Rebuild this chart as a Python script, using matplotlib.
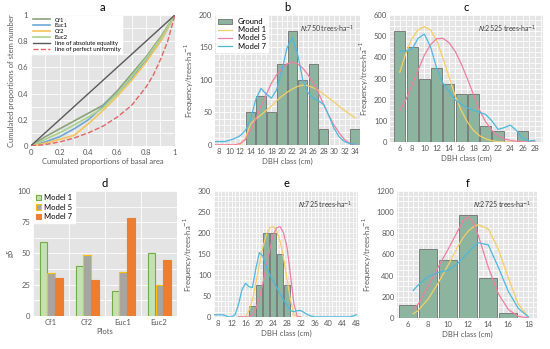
import matplotlib
matplotlib.use('Agg')
import matplotlib.pyplot as plt
from matplotlib.ticker import MultipleLocator
import numpy as np

plt.rcParams['font.family'] = ['Lato', 'DejaVu Sans']

# ---------- data ----------
# a: Lorenz curves
lor_x = [0, 0.1, 0.2, 0.3, 0.4, 0.5, 0.6, 0.7, 0.8, 0.9, 1.0]
cf1 = [0, 0.07, 0.13, 0.19, 0.25, 0.31, 0.42, 0.55, 0.68, 0.83, 1.0]
euc1 = [0, 0.03, 0.07, 0.13, 0.20, 0.30, 0.40, 0.52, 0.65, 0.80, 1.0]
cf2 = [0, 0.02, 0.05, 0.08, 0.17, 0.27, 0.38, 0.50, 0.64, 0.80, 1.0]
euc2 = [0, 0.05, 0.10, 0.16, 0.22, 0.29, 0.40, 0.53, 0.67, 0.82, 1.0]
unif_x = [0, 0.1, 0.2, 0.3, 0.4, 0.5, 0.6, 0.7, 0.8, 0.85, 0.9, 0.95, 1.0]
unif_y = [0, 0.01, 0.03, 0.06, 0.10, 0.15, 0.22, 0.31, 0.45, 0.54, 0.66, 0.80, 1.0]

# b
b_cls = [14, 16, 18, 20, 22, 24, 26, 28, 30, 32, 34]
b_frq = [50, 75, 50, 125, 175, 100, 125, 25, 0, 0, 25]
b_x = list(range(7, 35))
b_m1 = [0, 0, 0, 0, 0, 0, 10, 32, 40, 46, 53, 60, 68, 75, 81, 86, 90, 92, 91, 88, 84, 78, 72, 66, 59, 53, 47, 42]
b_m5 = [0, 0, 0, 0, 0, 2, 8, 22, 40, 60, 78, 95, 108, 118, 125, 127, 125, 118, 108, 95, 80, 62, 45, 30, 18, 8, 2, 0]
b_m7 = [5, 5, 5, 7, 10, 14, 22, 40, 70, 87, 78, 72, 85, 115, 150, 165, 140, 100, 80, 72, 68, 62, 45, 25, 12, 5, 2, 1]

# c
c_cls = [6, 8, 10, 12, 14, 16, 18, 20, 22, 24, 26]
c_frq = [525, 450, 300, 350, 275, 225, 225, 75, 50, 0, 50]
c_x = list(range(6, 29))
c_m1 = [330, 420, 490, 530, 545, 530, 480, 400, 310, 220, 150, 95, 55, 30, 15, 6, 2, 0, 0, 0, 0, 0, 0]
c_m5 = [150, 200, 270, 340, 410, 460, 488, 490, 470, 430, 370, 300, 225, 150, 95, 55, 30, 15, 8, 3, 1, 0, 0]
c_m7 = [430, 430, 440, 490, 510, 450, 350, 280, 240, 200, 178, 162, 150, 140, 130, 100, 60, 68, 80, 55, 18, 5, 8]

# d
plots = ['Cf1', 'Cf2', 'Euc1', 'Euc2']
d_m1 = [59, 40, 20, 50]
d_m5 = [34, 49, 35, 25]
d_m7 = [30, 29, 78, 45]

# e
e_cls = [18, 20, 22, 24, 26, 28]
e_frq = [25, 75, 200, 200, 150, 75]
e_x = list(range(14, 33))
e_m1 = [0, 0, 0, 15, 40, 80, 125, 165, 195, 212, 215, 205, 180, 140, 90, 40, 5, 0, 0]
e_m5 = [0, 0, 0, 0, 5, 20, 45, 80, 120, 160, 195, 212, 215, 200, 165, 100, 30, 0, 0]
e_x7 = list(range(7, 49))
e_m7 = [5, 5, 5, 4, 0, 0, 5, 30, 65, 80, 72, 70, 115, 153, 145, 120, 100, 85, 70, 55, 40, 28, 15, 12, 15, 15, 10, 5, 2,
        0, 0, 0, 0, 0, 0, 0, 0, 0, 0, 0, 2, 5]

# f
f_cls = [6, 8, 10, 12, 14, 16]
f_frq = [125, 650, 550, 975, 375, 50]
f_x = [6.5, 7, 8, 9, 10, 11, 11.5, 12, 12.5, 13, 14, 15, 16, 17, 18]
f_m1 = [40, 70, 180, 330, 500, 680, 760, 820, 860, 880, 840, 650, 380, 130, 10]
f_m5 = [80, 130, 300, 480, 650, 830, 920, 955, 900, 780, 480, 230, 80, 15, 0]
f_m7 = [260, 310, 390, 430, 450, 520, 570, 620, 670, 710, 690, 480, 250, 90, 10]

# ---------- style ----------
bg = '#e4e4e4'
tc = '#595959'
bar_c = '#8db49e'
c_m1c = '#f5cf63'
c_m5c = '#f07ea3'
c_m7c = '#4db8df'
lab_fs = 5.5
tick_fs = 5.5

fig = plt.figure(figsize=(5.5, 3.49), dpi=100)


def style(ax, xminor, yminor):
    ax.set_facecolor(bg)
    for s in ax.spines.values():
        s.set_visible(False)
    ax.xaxis.set_minor_locator(MultipleLocator(xminor))
    ax.yaxis.set_minor_locator(MultipleLocator(yminor))
    ax.grid(True, which='both', color='white', linewidth=0.6)
    ax.set_axisbelow(True)
    ax.tick_params(which='both', length=0, labelsize=tick_fs, colors=tc, pad=2)


def white_legend(ax, handles=None, labels=None, **kw):
    if handles is None:
        lg = ax.legend(loc='upper left', frameon=True, borderaxespad=0.1, **kw)
    else:
        lg = ax.legend(handles, labels, loc='upper left', frameon=True, borderaxespad=0.1, **kw)
    lg.get_frame().set_facecolor('white')
    lg.get_frame().set_edgecolor('white')
    lg.get_frame().set_alpha(1)
    lg.get_frame().set_boxstyle('square', pad=0)
    return lg


def freq_panel(ax, cls, frq, x1, m1, x5, m5, x7, m7, title, ntext, legend=False):
    bars = ax.bar(cls, frq, width=1.8, color=bar_c, edgecolor='#707070', linewidth=0.6, zorder=2)
    l1, = ax.plot(x1, m1, color=c_m1c, lw=0.9, zorder=3)
    l5, = ax.plot(x5, m5, color=c_m5c, lw=0.9, zorder=3)
    l7, = ax.plot(x7, m7, color=c_m7c, lw=0.9, zorder=3)
    ax.set_title(title, fontsize=8, pad=3)
    ax.set_xlabel('DBH class (cm)', fontsize=lab_fs, color=tc, labelpad=2)
    ax.set_ylabel('Frequency/trees·ha$^{-1}$', fontsize=lab_fs, color=tc, labelpad=2)
    ax.text(0.96, 0.93, r'$\it{N}$:' + ntext + ' trees·ha$^{-1}$', transform=ax.transAxes,
            ha='right', va='top', fontsize=5, color='#404040')
    if legend:
        white_legend(ax, [bars, l1, l5, l7], ['Ground', 'Model 1', 'Model 5', 'Model 7'],
                     fontsize=5.5, borderpad=0.3, handlelength=1.8, labelspacing=0.15)


# a
ax = fig.add_axes([0.056, 0.582, 0.262, 0.375])
style(ax, 0.1, 0.1)
ax.plot(lor_x, cf1, color='#8aa27a', lw=1.2, label='Cf1')
ax.plot(lor_x, euc1, color='#6fa6d6', lw=1.2, label='Euc1')
ax.plot(lor_x, cf2, color='#f2c45a', lw=1.2, label='Cf2')
ax.plot(lor_x, euc2, color='#a9d18e', lw=1.2, label='Euc2')
ax.plot([0, 1], [0, 1], color='#595959', lw=1.0, label='line of absolute equality')
ax.plot(unif_x, unif_y, color='#e06666', lw=1.0, ls='--', label='line of perfect uniformity')
ax.set_xlim(0, 1)
ax.set_ylim(0, 1)
ax.set_xticks([0, 0.2, 0.4, 0.6, 0.8, 1])
ax.set_xticklabels(['0', '0.2', '0.4', '0.6', '0.8', '1'])
ax.set_yticks([0, 0.2, 0.4, 0.6, 0.8, 1])
ax.set_yticklabels(['0', '0.2', '0.4', '0.6', '0.8', '1'])
ax.set_title('a', fontsize=8, pad=3)
ax.set_xlabel('Cumulated proportions of basal area', fontsize=lab_fs, color=tc, labelpad=2)
ax.set_ylabel('Cumulated proportions of stem number', fontsize=lab_fs, color=tc, labelpad=2)
white_legend(ax, fontsize=4.3, borderpad=0.3, handlelength=2.8, labelspacing=0.12)

# b
ax = fig.add_axes([0.391, 0.585, 0.264, 0.372])
style(ax, 1, 10)
freq_panel(ax, b_cls, b_frq, b_x, b_m1, b_x, b_m5, b_x, b_m7, 'b', '750', legend=True)
ax.set_xlim(7.2, 35)
ax.set_ylim(0, 200)
ax.set_xticks(range(8, 35, 2))
ax.set_yticks([0, 50, 100, 150, 200])

# c
ax = fig.add_axes([0.709, 0.593, 0.278, 0.364])
style(ax, 1, 25)
freq_panel(ax, c_cls, c_frq, c_x, c_m1, c_x, c_m5, c_x, c_m7, 'c', '2525')
ax.set_xlim(4.4, 29.3)
ax.set_ylim(0, 600)
ax.set_xticks(range(6, 29, 2))
ax.set_yticks(range(0, 601, 100))

# d
ax = fig.add_axes([0.06, 0.095, 0.262, 0.358])
style(ax, 1, 12.5)
ax.xaxis.set_minor_locator(MultipleLocator(1, offset=0.5))
ax.grid(False, axis='x', which='major')
pos = np.arange(len(plots))
w = 0.22
ax.bar(pos - w, d_m1, width=w * 0.9, color='#c5e0b4', edgecolor='#70ad47', linewidth=0.8, label='Model 1')
ax.bar(pos, d_m5, width=w * 0.9, color='#a5a5a5', edgecolor='#ffc000', linewidth=0.8, label='Model 5')
ax.bar(pos + w, d_m7, width=w * 0.9, color='#ed7d31', edgecolor='#ed7d31', linewidth=0.8, label='Model 7')
ax.set_xticks(pos)
ax.set_xticklabels(plots)
ax.set_xlim(-0.5, 3.5)
ax.set_ylim(0, 100)
ax.set_yticks([0, 25, 50, 75, 100])
ax.set_title('d', fontsize=8, pad=3)
ax.set_xlabel('Plots', fontsize=lab_fs, color=tc, labelpad=2)
ax.set_ylabel('gδ', fontsize=lab_fs, color=tc, labelpad=2)
white_legend(ax, fontsize=5.5, borderpad=0.3, handlelength=0.7, handleheight=0.7,
             labelspacing=0.35, handletextpad=0.4)

# e
ax = fig.add_axes([0.389, 0.092, 0.262, 0.361])
style(ax, 1, 12.5)
freq_panel(ax, e_cls, e_frq, e_x, e_m1, e_x, e_m5, e_x7, e_m7, 'e', '725')
ax.set_xlim(6.9, 48.5)
ax.set_ylim(0, 300)
ax.set_xticks(range(8, 49, 4))
ax.set_yticks(range(0, 301, 50))

# f
ax = fig.add_axes([0.722, 0.089, 0.255, 0.364])
style(ax, 0.5, 50)
freq_panel(ax, f_cls, f_frq, f_x, f_m1, f_x, f_m5, f_x, f_m7, 'f', '2725')
ax.set_xlim(4.9, 18.9)
ax.set_ylim(0, 1200)
ax.set_xticks(range(6, 19, 2))
ax.set_yticks(range(0, 1201, 200))

fig.savefig('out.png', dpi=100)
